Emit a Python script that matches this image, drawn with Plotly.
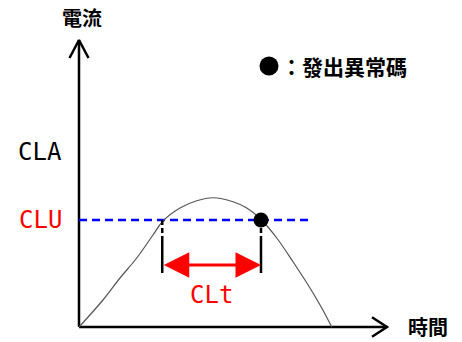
import plotly.graph_objects as go

# current waveform (time, current)
time_pts = [0.0, 0.96, 1.64, 2.31, 2.96, 3.36, 4.04, 4.71, 5.36, 6.16, 6.71, 7.30, 7.91, 8.56, 9.24, 9.71, 10.11]
current_pts = [0.0, 1.08, 1.96, 2.76, 3.68, 4.24, 4.76, 5.05, 5.17, 5.01, 4.76, 4.28, 3.56, 2.61, 1.56, 0.76, 0.0]

# levels and markers
clu_level = 4.28
cla_level = 7.0
dash_end = 9.36
t_start = 3.33          # curve rises above CLU
t_alarm = 7.28          # alarm raised after CLt
mark_bottom = 2.16
mark_split = 3.44
arrow_level = 2.48

level_labels = ["CLA", "CLU"]
level_values = [cla_level, clu_level]
level_colors = ["black", "red"]

# axis extents
t_axis_end = 12.32
c_axis_end = 11.48

fig = go.Figure()

# axes with open arrow heads
fig.add_trace(go.Scatter(x=[0, 0], y=[0, c_axis_end], mode="lines",
                         line=dict(color="black", width=2.5)))
fig.add_trace(go.Scatter(x=[-0.38, 0, 0.38], y=[c_axis_end - 0.72, c_axis_end, c_axis_end - 0.72],
                         mode="lines", line=dict(color="black", width=2.5)))
fig.add_trace(go.Scatter(x=[0, t_axis_end], y=[0, 0], mode="lines",
                         line=dict(color="black", width=2.5)))
fig.add_trace(go.Scatter(x=[t_axis_end - 0.6, t_axis_end, t_axis_end - 0.6], y=[0.39, 0, -0.39],
                         mode="lines", line=dict(color="black", width=2.5)))

# CLU threshold
fig.add_trace(go.Scatter(x=[0, dash_end], y=[clu_level, clu_level], mode="lines",
                         line=dict(color="#0000ff", width=2.5, dash="8px,5px")))

# waveform
fig.add_trace(go.Scatter(x=time_pts, y=current_pts, mode="lines",
                         line=dict(color="#555555", width=1.2, shape="spline")))

# vertical markers
for t in [t_start, t_alarm]:
    fig.add_trace(go.Scatter(x=[t, t], y=[clu_level, mark_split], mode="lines",
                             line=dict(color="black", width=2.5, dash="5px,3px")))
    fig.add_trace(go.Scatter(x=[t, t], y=[mark_split, mark_bottom], mode="lines",
                             line=dict(color="black", width=2.5)))

# alarm point
fig.add_trace(go.Scatter(x=[t_alarm], y=[clu_level], mode="markers",
                         marker=dict(color="black", size=15), cliponaxis=False))

# legend dot
fig.add_trace(go.Scatter(x=[7.6], y=[10.44], mode="markers",
                         marker=dict(color="black", size=19), cliponaxis=False))

# CLt double arrow
fig.add_annotation(x=t_alarm, y=arrow_level, ax=t_start, ay=arrow_level,
                   xref="x", yref="y", axref="x", ayref="y", text="",
                   showarrow=True, arrowhead=2, startarrowhead=2, arrowside="end+start",
                   arrowsize=1.7, startarrowsize=1.7, arrowwidth=3, arrowcolor="red")
fig.add_annotation(x=5.3, y=1.28, text="CLt", showarrow=False,
                   font=dict(family="DejaVu Sans Mono", size=24, color="red"))

for name, lvl, col in zip(level_labels, level_values, level_colors):
    fig.add_annotation(x=-1.56, y=lvl, text=name, showarrow=False,
                       font=dict(family="DejaVu Sans Mono", size=24, color=col))

cjk = "Noto Sans CJK TC"
fig.add_annotation(x=0.11, y=12.38, text="電流", showarrow=False,
                   font=dict(family=cjk, size=20, color="black", weight="bold"))
fig.add_annotation(x=13.96, y=-0.6, text="時間", showarrow=False,
                   yanchor="bottom", borderpad=0,
                   font=dict(family=cjk, size=20, color="black", weight="bold"))
fig.add_annotation(x=8.0, y=10.44, text="：發出異常碼", showarrow=False, xanchor="left",
                   font=dict(family=cjk, size=21, color="black", weight="bold"))

fig.update_layout(
    width=462, height=342,
    margin=dict(l=0, r=0, t=0, b=0),
    paper_bgcolor="white", plot_bgcolor="white",
    showlegend=False,
    xaxis=dict(range=[-3.16, 15.32], visible=False, fixedrange=True),
    yaxis=dict(range=[-0.6, 13.08], visible=False, fixedrange=True),
)

# drop the default page margin so the figure sits at the window's corner
fig.write_html("out.html", config={"displayModeBar": False},
               post_script="document.body.style.margin='0';")
